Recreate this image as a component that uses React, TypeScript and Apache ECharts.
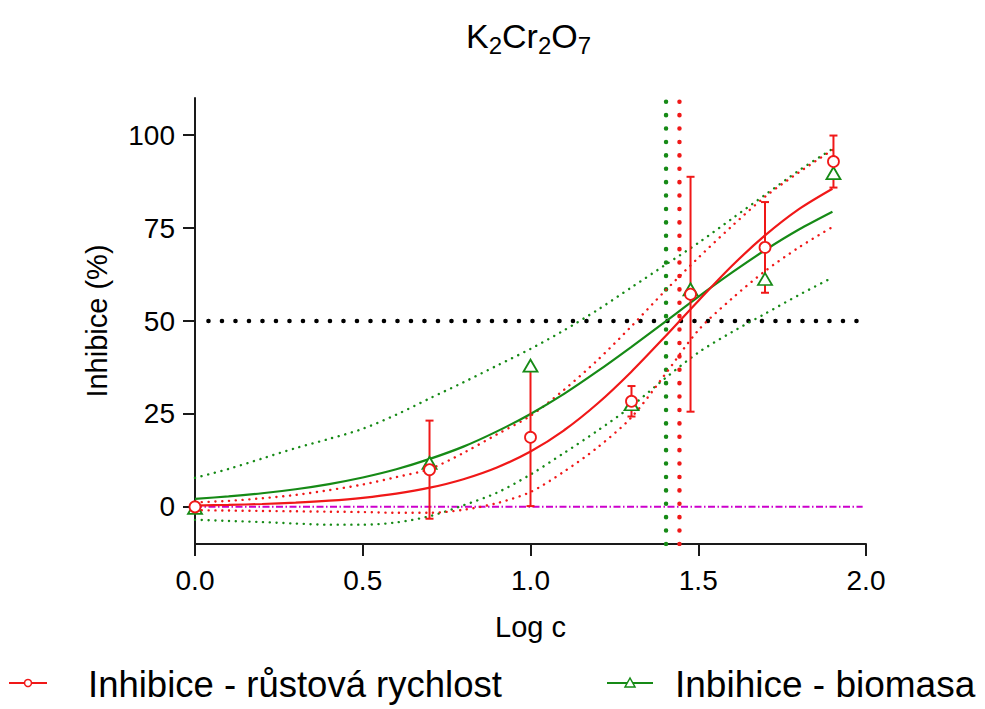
import React, { useEffect, useRef } from "react";
import * as echarts from "echarts";

// Concentration (log c) of the test points; the first one is the control.
const LOG_C = [0, 0.699, 1, 1.301, 1.477, 1.699, 1.903];
// Inhibition of growth rate (%), mean and standard deviation.
const GROWTH_MEAN = [0, 10.0, 18.7, 28.4, 57.2, 69.8, 92.9];
const GROWTH_SD = [0, 13.2, 18.5, 4.1, 31.6, 12.2, 7.0];
// Inhibition of biomass (%).
const BIOMASS_MEAN = [-0.3, 11.8, 38.0, 27.6, 58.5, 61.3, 89.8];

// Fitted dose-response curves with their 95 % confidence bands.
const FIT_X = [0, 0.1, 0.2, 0.3, 0.4, 0.5, 0.6, 0.7, 0.8, 0.9, 1.0, 1.1, 1.2, 1.3, 1.4, 1.5, 1.6, 1.7, 1.8, 1.9];
const GROWTH_FIT = [0.35, 0.52, 0.76, 1.12, 1.65, 2.42, 3.54, 5.15, 7.44, 10.6, 14.9, 20.6, 27.8, 36.3, 45.7, 55.4, 64.8, 73.1, 80.1, 85.6];
const GROWTH_HI = [1.2, 1.6, 2.3, 3.2, 4.5, 6.0, 8.0, 10.2, 14.5, 19.5, 24.5, 31.5, 39.5, 48.5, 58.0, 67.0, 75.5, 83.5, 90.0, 96.0];
const GROWTH_LO = [-0.9, -1.0, -1.1, -1.2, -1.3, -1.4, -1.6, -1.6, -0.8, 1.0, 4.0, 9.5, 16.0, 24.0, 35.5, 47.5, 56.0, 63.5, 69.8, 75.3];
const BIOMASS_FIT = [2.16, 2.81, 3.65, 4.74, 6.13, 7.89, 10.1, 12.9, 16.2, 20.3, 25.0, 30.4, 36.5, 43.0, 49.7, 56.5, 63.0, 69.1, 74.6, 79.4];
const BIOMASS_HI = [7.8, 10.2, 13.0, 15.8, 18.3, 21.0, 24.8, 29.2, 33.5, 38.0, 42.5, 47.5, 53.0, 59.0, 65.0, 71.0, 77.5, 84.0, 90.5, 96.3];
const BIOMASS_LO = [-3.5, -3.8, -4.1, -4.5, -4.8, -4.8, -4.2, -2.5, 0.4, 3.8, 8.7, 14.5, 20.5, 27.0, 34.5, 41.5, 47.0, 52.0, 57.0, 61.7];

// Reference levels.
const HALF_EFFECT = 50;
const EC50_GROWTH = 1.444;
const EC50_BIOMASS = 1.404;

// Axes.
const X_MIN = 0;
const X_MAX = 2;
const X_STEP = 0.5;
const Y_MIN = -10;
const Y_MAX = 110;
const Y_TICKS = [0, 25, 50, 75, 100];

const LEGEND_GROWTH = "Inhibice - růstová rychlost";
const LEGEND_BIOMASS = "Inbihice - biomasa";

const RED = "#f01818";
const GREEN = "#168a16";
const MAGENTA = "#cc00cc";
const FONT = "'Liberation Sans', Arial, sans-serif";

const pairs = (xs: number[], ys: number[]) => xs.map((x, i) => [x, ys[i]]);

const dotted = (color: string, width: number, gap: number) => ({
  color,
  width,
  type: [0.1, gap] as number[],
  cap: "round" as const,
});

export default function App() {
  const ref = useRef<HTMLDivElement>(null);

  useEffect(() => {
    if (!ref.current) return;
    const chart = echarts.init(ref.current, null, { renderer: "svg" });

    const curve = (name: string, ys: number[], lineStyle: any, z = 2) => ({
      name,
      type: "line",
      data: pairs(FIT_X, ys),
      smooth: 0.3,
      showSymbol: false,
      symbol: "none",
      lineStyle,
      z,
      silent: true,
    });

    const refLine = (name: string, data: number[][], lineStyle: any) => ({
      name,
      type: "line",
      data,
      showSymbol: false,
      symbol: "none",
      lineStyle,
      z: 1,
      silent: true,
    });

    chart.setOption({
      animation: false,
      backgroundColor: "#fff",
      textStyle: { fontFamily: FONT },
      title: {
        text: "{n|K}{s|2}{n|Cr}{s|2}{n|O}{s|7}",
        left: 461,
        top: 10,
        textStyle: {
          fontWeight: "normal",
          rich: {
            n: { fontSize: 34, fontFamily: FONT, fontWeight: "normal", color: "#000", lineHeight: 42, verticalAlign: "middle" },
            s: { fontSize: 24, fontFamily: FONT, fontWeight: "normal", color: "#000", lineHeight: 18, verticalAlign: "bottom" },
          },
        },
      },
      grid: {
        left: 195,
        right: 119,
        top: 98,
        bottom: 165,
        containLabel: false,
        outerBoundsMode: "none",
      },
      xAxis: {
        type: "value",
        min: X_MIN,
        max: X_MAX,
        interval: X_STEP,
        name: "Log c",
        nameLocation: "middle",
        nameGap: 68,
        nameTextStyle: { fontSize: 29, color: "#000", fontFamily: FONT },
        axisLine: { show: true, onZero: false, lineStyle: { color: "#1a1a1a", width: 2 } },
        axisTick: { show: true, length: 12, lineStyle: { color: "#1a1a1a", width: 2 } },
        axisLabel: {
          fontSize: 28,
          color: "#000",
          margin: 22,
          fontFamily: FONT,
          formatter: (v: number) => v.toFixed(1),
        },
        splitLine: { show: false },
      },
      yAxis: {
        type: "value",
        min: Y_MIN,
        max: Y_MAX,
        name: "Inhibice (%)",
        nameLocation: "middle",
        nameGap: 84,
        nameTextStyle: { fontSize: 29, color: "#000", fontFamily: FONT },
        axisLine: { show: true, onZero: false, lineStyle: { color: "#1a1a1a", width: 2 } },
        axisTick: { show: true, length: 12, customValues: Y_TICKS, lineStyle: { color: "#1a1a1a", width: 2 } },
        axisLabel: { fontSize: 28, color: "#000", margin: 20, fontFamily: FONT, customValues: Y_TICKS },
        splitLine: { show: false },
      },
      series: [
        refLine("half", [[0.04, HALF_EFFECT], [X_MAX, HALF_EFFECT]], dotted("#000", 4.5, 13.4)),
        refLine("zero", [[X_MIN, 0], [1.99, 0]], { color: MAGENTA, width: 2, type: [7, 2.5, 1.5, 2.5] }),
        refLine("ec50 biomass", [[EC50_BIOMASS, Y_MIN], [EC50_BIOMASS, Y_MAX]], dotted(GREEN, 4.5, 13.3)),
        refLine("ec50 growth", [[EC50_GROWTH, Y_MIN], [EC50_GROWTH, Y_MAX]], dotted(RED, 4.5, 13.3)),
        curve("biomass hi", BIOMASS_HI, dotted(GREEN, 2.4, 6.7)),
        curve("biomass lo", BIOMASS_LO, dotted(GREEN, 2.4, 6.7)),
        curve("growth hi", GROWTH_HI, dotted(RED, 2.4, 6.7)),
        curve("growth lo", GROWTH_LO, dotted(RED, 2.4, 6.7)),
        curve("biomass fit", BIOMASS_FIT, { color: GREEN, width: 2.2 }, 3),
        curve("growth fit", GROWTH_FIT, { color: RED, width: 2.2 }, 3),
        {
          name: "growth sd",
          type: "custom",
          data: LOG_C.map((x, i) => [x, GROWTH_MEAN[i], GROWTH_SD[i]]),
          encode: { x: 0, y: 1 },
          z: 4,
          silent: true,
          renderItem: (_params: any, api: any) => {
            const x = api.value(0);
            const m = api.value(1);
            const e = api.value(2);
            if (!e) return { type: "group", children: [] };
            const top = api.coord([x, m + e]);
            const bot = api.coord([x, m - e]);
            const hw = 4;
            const style = { stroke: RED, lineWidth: 2 };
            return {
              type: "group",
              children: [
                { type: "line", shape: { x1: top[0], y1: top[1], x2: bot[0], y2: bot[1] }, style },
                { type: "line", shape: { x1: top[0] - hw, y1: top[1], x2: top[0] + hw, y2: top[1] }, style },
                { type: "line", shape: { x1: bot[0] - hw, y1: bot[1], x2: bot[0] + hw, y2: bot[1] }, style },
              ],
            };
          },
        },
        {
          name: LEGEND_BIOMASS,
          type: "scatter",
          data: pairs(LOG_C, BIOMASS_MEAN),
          symbol: "triangle",
          symbolSize: [14, 12],
          itemStyle: { color: "#fff", borderColor: GREEN, borderWidth: 1.8, opacity: 1 },
          z: 5,
          silent: true,
        },
        {
          name: LEGEND_GROWTH,
          type: "scatter",
          data: pairs(LOG_C, GROWTH_MEAN),
          symbol: "circle",
          symbolSize: 11,
          itemStyle: { color: "#fff", borderColor: RED, borderWidth: 1.8, opacity: 1 },
          z: 6,
          silent: true,
        },
      ],
      graphic: [
        { type: "line", shape: { x1: 9, y1: 683, x2: 47, y2: 683 }, style: { stroke: RED, lineWidth: 2 } },
        { type: "circle", shape: { cx: 28, cy: 683, r: 3.5 }, style: { fill: "#fff", stroke: RED, lineWidth: 1.5 } },
        {
          type: "text",
          x: 88,
          y: 684,
          style: { text: LEGEND_GROWTH, font: `36.5px ${FONT}`, fill: "#000", verticalAlign: "middle" },
        },
        { type: "line", shape: { x1: 607, y1: 683, x2: 653, y2: 683 }, style: { stroke: GREEN, lineWidth: 2 } },
        {
          type: "polygon",
          shape: { points: [[630, 678], [625, 687], [635, 687]] },
          style: { fill: "#fff", stroke: GREEN, lineWidth: 1.5 },
        },
        {
          type: "text",
          x: 675,
          y: 684,
          style: { text: LEGEND_BIOMASS, font: `37px ${FONT}`, fill: "#000", verticalAlign: "middle" },
        },
      ],
    });

    return () => chart.dispose();
  }, []);

  return (
    <div
      ref={ref}
      style={{ position: "fixed", left: 0, top: 0, width: 985, height: 709, background: "#fff" }}
    />
  );
}
